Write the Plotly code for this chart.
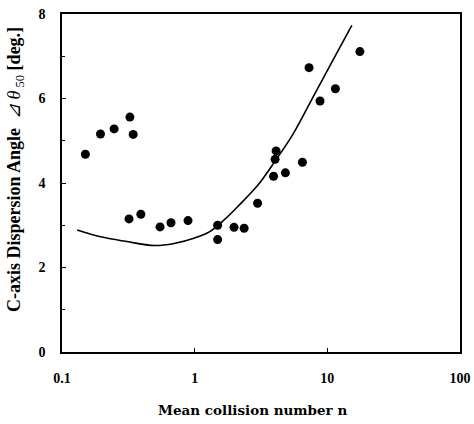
import plotly.graph_objects as go

# Measured data points (mean collision number n, dispersion angle in deg.)
n_points = [0.15, 0.195, 0.247, 0.325, 0.344, 0.32, 0.393, 0.548, 0.663, 0.891,
            1.49, 1.49, 1.98, 2.36, 2.98, 3.93, 4.83, 4.04, 4.11, 6.49,
            8.81, 11.5, 7.28, 17.6]
angle_points = [4.68, 5.16, 5.28, 5.56, 5.15, 3.15, 3.26, 2.96, 3.06, 3.11,
                3.0, 2.66, 2.95, 2.93, 3.52, 4.16, 4.24, 4.56, 4.76, 4.49,
                5.94, 6.23, 6.73, 7.11]

# Model curve
n_curve = [0.13, 0.2, 0.3, 0.5, 0.7, 1.0, 1.3, 1.7, 2.2, 3.0, 4.0, 5.5, 8.0, 11.0, 15.3]
angle_curve = [2.89, 2.72, 2.62, 2.52, 2.57, 2.70, 2.85, 3.15, 3.50, 3.95, 4.50, 5.15,
               6.10, 6.90, 7.73]

x_ticks = [0.1, 1, 10, 100]
x_ticklabels = ["0.1", "1", "10", "100"]
y_ticks = [0, 2, 4, 6, 8]

font_family = "Liberation Serif"

fig = go.Figure()
fig.add_trace(go.Scatter(
    x=n_curve, y=angle_curve, mode="lines",
    line=dict(color="black", width=1.6, shape="spline", smoothing=1.0),
    showlegend=False, hoverinfo="skip"))
fig.add_trace(go.Scatter(
    x=n_points, y=angle_points, mode="markers",
    marker=dict(color="black", size=9, line=dict(width=0)),
    showlegend=False))

fig.update_layout(
    width=474, height=424,
    margin=dict(l=62, r=14, t=14, b=72),
    paper_bgcolor="white", plot_bgcolor="white",
    font=dict(family=font_family, color="black", size=14),
    xaxis=dict(
        type="log", range=[-1, 2], automargin=False,
        tickvals=x_ticks, ticktext=["<b>%s</b>" % t for t in x_ticklabels],
        ticks="inside", ticklen=4, tickwidth=1, tickcolor="black",
        showline=True, linecolor="black", linewidth=1.5, mirror=True,
        showgrid=False, zeroline=False,
        ticklabelstandoff=12,
    ),
    yaxis=dict(
        range=[0, 8], automargin=False,
        tickvals=y_ticks, ticktext=["<b>%d</b>" % v for v in y_ticks],
        ticks="inside", ticklen=4, tickwidth=1, tickcolor="black",
        minor=dict(dtick=1, ticks="inside", ticklen=3, tickcolor="black"),
        showline=True, linecolor="black", linewidth=1.5, mirror=True,
        showgrid=False, zeroline=False,
        ticklabelstandoff=12,
    ),
    annotations=[
        dict(text="<b>Mean collision number n</b>",
             xref="paper", yref="paper", x=(252 - 62) / 398, y=(352 - 410) / 338,
             xanchor="center", yanchor="middle", showarrow=False,
             font=dict(family="DejaVu Serif", size=13.5)),
        dict(text="<b>C-axis Dispersion Angle  </b><i>⊿ θ</i><sub> 50</sub><b> [deg.]</b>",
             xref="paper", yref="paper", x=(15 - 62) / 398, y=(352 - 170) / 338,
             xanchor="center", yanchor="middle", showarrow=False, textangle=-90,
             font=dict(family=font_family, size=18)),
    ],
)

fig.write_html("out.html", config={"displayModeBar": False},
               post_script="document.body.style.margin='0';document.body.style.overflow='hidden';")
